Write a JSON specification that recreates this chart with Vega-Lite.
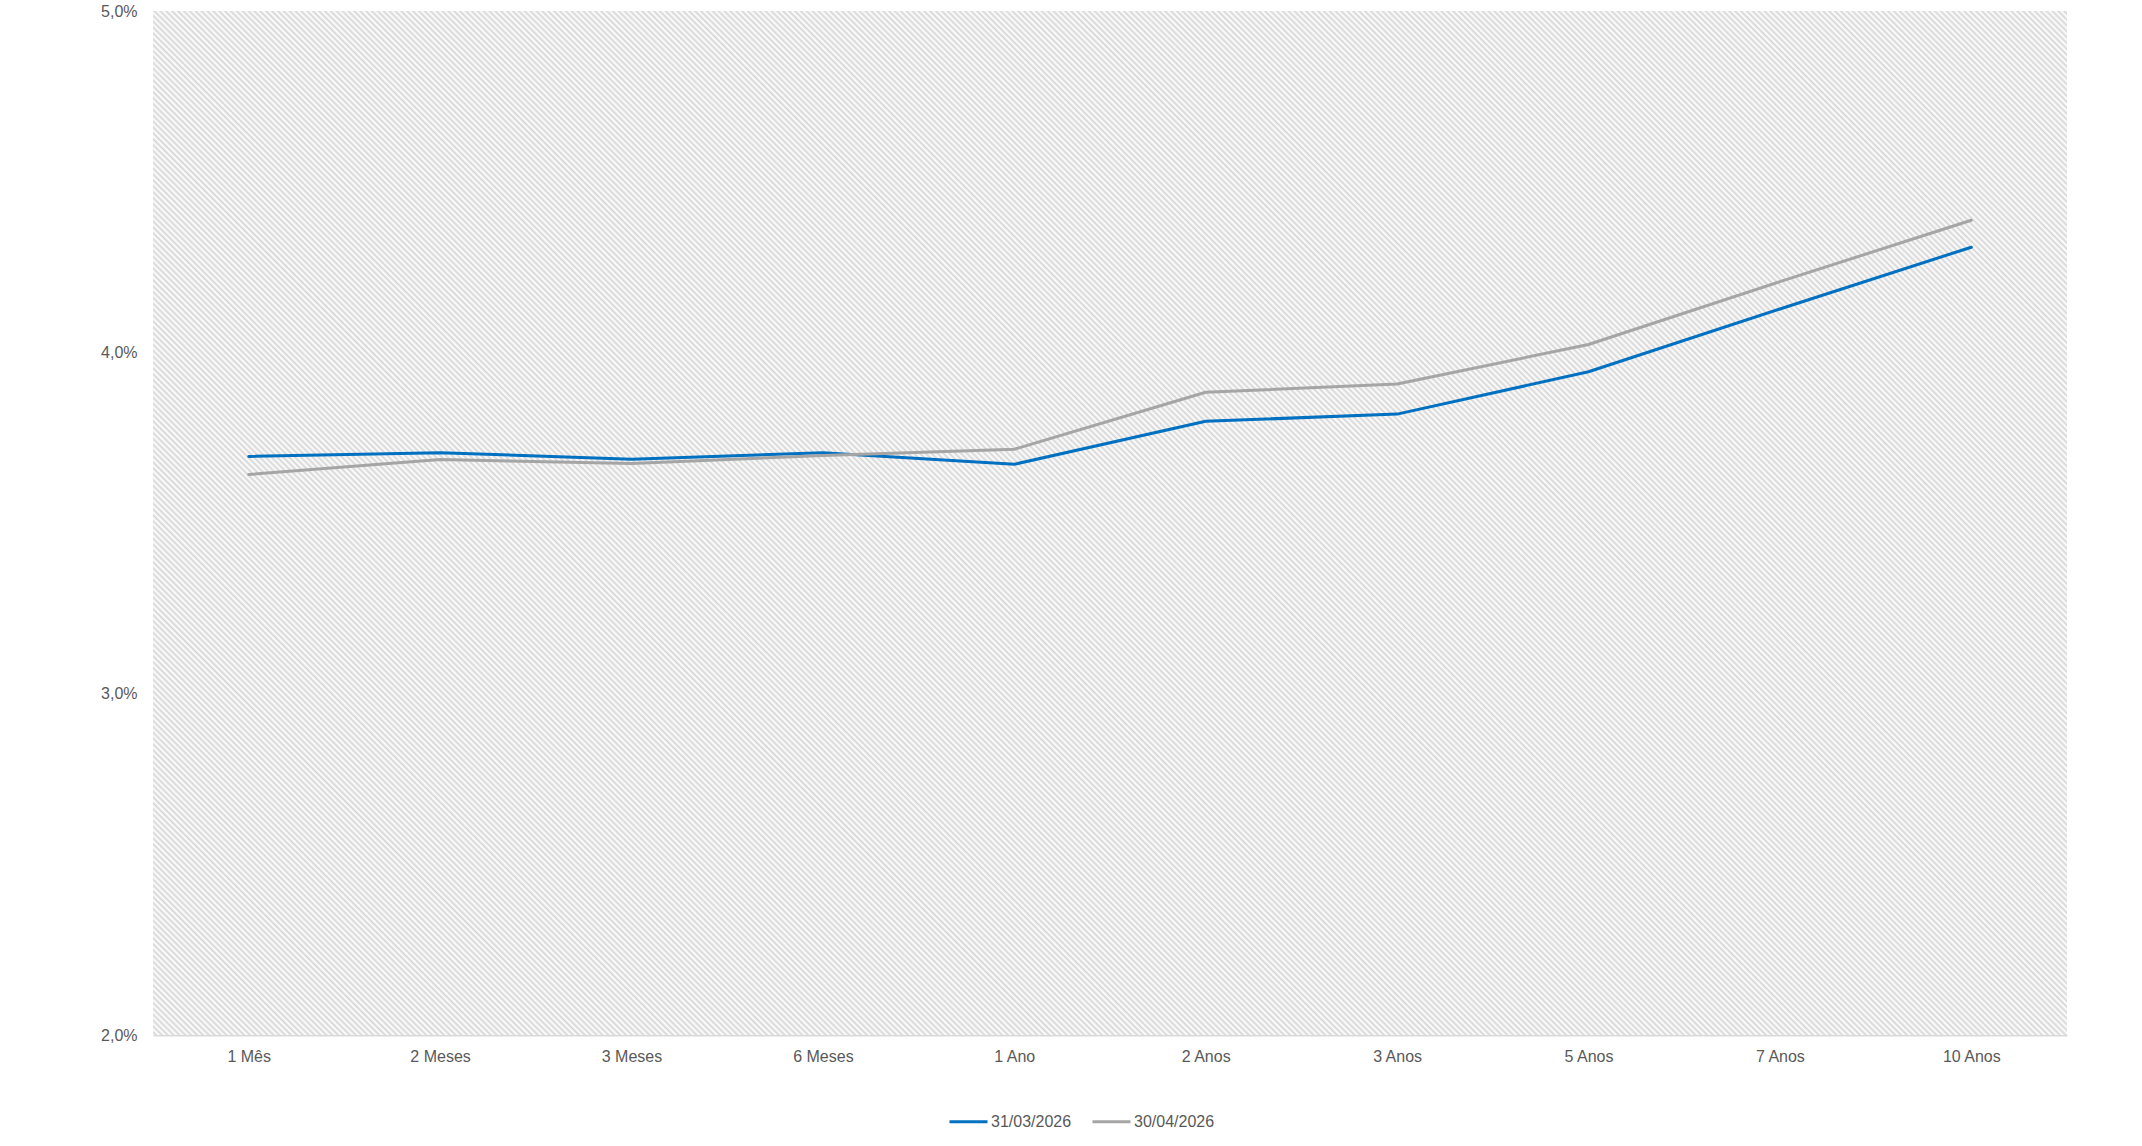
{
  "$schema": "https://vega.github.io/schema/vega-lite/v6.json",
  "width": 1914,
  "height": 1024,
  "autosize": "none",
  "padding": {"left": 153, "top": 11, "right": 75, "bottom": 111},
  "background": "#ffffff",
  "config": {
    "view": {"fill": "#ffffff", "stroke": null},
    "font": "Liberation Sans",
    "axis": {"labelFont": "Liberation Sans", "labelFontSize": 16, "labelColor": "#595959", "ticks": false, "grid": false, "title": null},
    "legend": {"labelFont": "Liberation Sans", "labelFontSize": 16, "labelColor": "#595959"}
  },
  "layer": [
    {
      "data": {"values": [{"fundo": "hachurado"}]},
      "mark": {
        "type": "rect",
        "fill": {
          "gradient": "linear", "x1": 0, "y1": 1, "x2": 1.19342, "y2": 0.36152,
          "stops": [
{"offset":0.000,"color":"#fff"},{"offset":0.001,"color":"#d6d6d6"},{"offset":0.002,"color":"#fff"},{"offset":0.003,"color":"#d6d6d6"},{"offset":0.004,"color":"#fff"},{"offset":0.005,"color":"#d6d6d6"},{"offset":0.006,"color":"#fff"},{"offset":0.007,"color":"#d6d6d6"},{"offset":0.008,"color":"#fff"},{"offset":0.009,"color":"#d6d6d6"},
{"offset":0.010,"color":"#fff"},{"offset":0.011,"color":"#d6d6d6"},{"offset":0.012,"color":"#fff"},{"offset":0.013,"color":"#d6d6d6"},{"offset":0.014,"color":"#fff"},{"offset":0.015,"color":"#d6d6d6"},{"offset":0.016,"color":"#fff"},{"offset":0.017,"color":"#d6d6d6"},{"offset":0.018,"color":"#fff"},{"offset":0.019,"color":"#d6d6d6"},
{"offset":0.020,"color":"#fff"},{"offset":0.021,"color":"#d6d6d6"},{"offset":0.022,"color":"#fff"},{"offset":0.023,"color":"#d6d6d6"},{"offset":0.024,"color":"#fff"},{"offset":0.025,"color":"#d6d6d6"},{"offset":0.026,"color":"#fff"},{"offset":0.027,"color":"#d6d6d6"},{"offset":0.028,"color":"#fff"},{"offset":0.029,"color":"#d6d6d6"},
{"offset":0.030,"color":"#fff"},{"offset":0.031,"color":"#d6d6d6"},{"offset":0.032,"color":"#fff"},{"offset":0.033,"color":"#d6d6d6"},{"offset":0.034,"color":"#fff"},{"offset":0.035,"color":"#d6d6d6"},{"offset":0.036,"color":"#fff"},{"offset":0.037,"color":"#d6d6d6"},{"offset":0.038,"color":"#fff"},{"offset":0.039,"color":"#d6d6d6"},
{"offset":0.040,"color":"#fff"},{"offset":0.041,"color":"#d6d6d6"},{"offset":0.042,"color":"#fff"},{"offset":0.043,"color":"#d6d6d6"},{"offset":0.044,"color":"#fff"},{"offset":0.045,"color":"#d6d6d6"},{"offset":0.046,"color":"#fff"},{"offset":0.047,"color":"#d6d6d6"},{"offset":0.048,"color":"#fff"},{"offset":0.049,"color":"#d6d6d6"},
{"offset":0.050,"color":"#fff"},{"offset":0.051,"color":"#d6d6d6"},{"offset":0.052,"color":"#fff"},{"offset":0.053,"color":"#d6d6d6"},{"offset":0.054,"color":"#fff"},{"offset":0.055,"color":"#d6d6d6"},{"offset":0.056,"color":"#fff"},{"offset":0.057,"color":"#d6d6d6"},{"offset":0.058,"color":"#fff"},{"offset":0.059,"color":"#d6d6d6"},
{"offset":0.060,"color":"#fff"},{"offset":0.061,"color":"#d6d6d6"},{"offset":0.062,"color":"#fff"},{"offset":0.063,"color":"#d6d6d6"},{"offset":0.064,"color":"#fff"},{"offset":0.065,"color":"#d6d6d6"},{"offset":0.066,"color":"#fff"},{"offset":0.067,"color":"#d6d6d6"},{"offset":0.068,"color":"#fff"},{"offset":0.069,"color":"#d6d6d6"},
{"offset":0.070,"color":"#fff"},{"offset":0.071,"color":"#d6d6d6"},{"offset":0.072,"color":"#fff"},{"offset":0.073,"color":"#d6d6d6"},{"offset":0.074,"color":"#fff"},{"offset":0.075,"color":"#d6d6d6"},{"offset":0.076,"color":"#fff"},{"offset":0.077,"color":"#d6d6d6"},{"offset":0.078,"color":"#fff"},{"offset":0.079,"color":"#d6d6d6"},
{"offset":0.080,"color":"#fff"},{"offset":0.081,"color":"#d6d6d6"},{"offset":0.082,"color":"#fff"},{"offset":0.083,"color":"#d6d6d6"},{"offset":0.084,"color":"#fff"},{"offset":0.085,"color":"#d6d6d6"},{"offset":0.086,"color":"#fff"},{"offset":0.087,"color":"#d6d6d6"},{"offset":0.088,"color":"#fff"},{"offset":0.089,"color":"#d6d6d6"},
{"offset":0.090,"color":"#fff"},{"offset":0.091,"color":"#d6d6d6"},{"offset":0.092,"color":"#fff"},{"offset":0.093,"color":"#d6d6d6"},{"offset":0.094,"color":"#fff"},{"offset":0.095,"color":"#d6d6d6"},{"offset":0.096,"color":"#fff"},{"offset":0.097,"color":"#d6d6d6"},{"offset":0.098,"color":"#fff"},{"offset":0.099,"color":"#d6d6d6"},
{"offset":0.100,"color":"#fff"},{"offset":0.101,"color":"#d6d6d6"},{"offset":0.102,"color":"#fff"},{"offset":0.103,"color":"#d6d6d6"},{"offset":0.104,"color":"#fff"},{"offset":0.105,"color":"#d6d6d6"},{"offset":0.106,"color":"#fff"},{"offset":0.107,"color":"#d6d6d6"},{"offset":0.108,"color":"#fff"},{"offset":0.109,"color":"#d6d6d6"},
{"offset":0.110,"color":"#fff"},{"offset":0.111,"color":"#d6d6d6"},{"offset":0.112,"color":"#fff"},{"offset":0.113,"color":"#d6d6d6"},{"offset":0.114,"color":"#fff"},{"offset":0.115,"color":"#d6d6d6"},{"offset":0.116,"color":"#fff"},{"offset":0.117,"color":"#d6d6d6"},{"offset":0.118,"color":"#fff"},{"offset":0.119,"color":"#d6d6d6"},
{"offset":0.120,"color":"#fff"},{"offset":0.121,"color":"#d6d6d6"},{"offset":0.122,"color":"#fff"},{"offset":0.123,"color":"#d6d6d6"},{"offset":0.124,"color":"#fff"},{"offset":0.125,"color":"#d6d6d6"},{"offset":0.126,"color":"#fff"},{"offset":0.127,"color":"#d6d6d6"},{"offset":0.128,"color":"#fff"},{"offset":0.129,"color":"#d6d6d6"},
{"offset":0.130,"color":"#fff"},{"offset":0.131,"color":"#d6d6d6"},{"offset":0.132,"color":"#fff"},{"offset":0.133,"color":"#d6d6d6"},{"offset":0.134,"color":"#fff"},{"offset":0.135,"color":"#d6d6d6"},{"offset":0.136,"color":"#fff"},{"offset":0.137,"color":"#d6d6d6"},{"offset":0.138,"color":"#fff"},{"offset":0.139,"color":"#d6d6d6"},
{"offset":0.140,"color":"#fff"},{"offset":0.141,"color":"#d6d6d6"},{"offset":0.142,"color":"#fff"},{"offset":0.143,"color":"#d6d6d6"},{"offset":0.144,"color":"#fff"},{"offset":0.145,"color":"#d6d6d6"},{"offset":0.146,"color":"#fff"},{"offset":0.147,"color":"#d6d6d6"},{"offset":0.148,"color":"#fff"},{"offset":0.149,"color":"#d6d6d6"},
{"offset":0.150,"color":"#fff"},{"offset":0.151,"color":"#d6d6d6"},{"offset":0.152,"color":"#fff"},{"offset":0.153,"color":"#d6d6d6"},{"offset":0.154,"color":"#fff"},{"offset":0.155,"color":"#d6d6d6"},{"offset":0.156,"color":"#fff"},{"offset":0.157,"color":"#d6d6d6"},{"offset":0.158,"color":"#fff"},{"offset":0.159,"color":"#d6d6d6"},
{"offset":0.160,"color":"#fff"},{"offset":0.161,"color":"#d6d6d6"},{"offset":0.162,"color":"#fff"},{"offset":0.163,"color":"#d6d6d6"},{"offset":0.164,"color":"#fff"},{"offset":0.165,"color":"#d6d6d6"},{"offset":0.166,"color":"#fff"},{"offset":0.167,"color":"#d6d6d6"},{"offset":0.168,"color":"#fff"},{"offset":0.169,"color":"#d6d6d6"},
{"offset":0.170,"color":"#fff"},{"offset":0.171,"color":"#d6d6d6"},{"offset":0.172,"color":"#fff"},{"offset":0.173,"color":"#d6d6d6"},{"offset":0.174,"color":"#fff"},{"offset":0.175,"color":"#d6d6d6"},{"offset":0.176,"color":"#fff"},{"offset":0.177,"color":"#d6d6d6"},{"offset":0.178,"color":"#fff"},{"offset":0.179,"color":"#d6d6d6"},
{"offset":0.180,"color":"#fff"},{"offset":0.181,"color":"#d6d6d6"},{"offset":0.182,"color":"#fff"},{"offset":0.183,"color":"#d6d6d6"},{"offset":0.184,"color":"#fff"},{"offset":0.185,"color":"#d6d6d6"},{"offset":0.186,"color":"#fff"},{"offset":0.187,"color":"#d6d6d6"},{"offset":0.188,"color":"#fff"},{"offset":0.189,"color":"#d6d6d6"},
{"offset":0.190,"color":"#fff"},{"offset":0.191,"color":"#d6d6d6"},{"offset":0.192,"color":"#fff"},{"offset":0.193,"color":"#d6d6d6"},{"offset":0.194,"color":"#fff"},{"offset":0.195,"color":"#d6d6d6"},{"offset":0.196,"color":"#fff"},{"offset":0.197,"color":"#d6d6d6"},{"offset":0.198,"color":"#fff"},{"offset":0.199,"color":"#d6d6d6"},
{"offset":0.200,"color":"#fff"},{"offset":0.201,"color":"#d6d6d6"},{"offset":0.202,"color":"#fff"},{"offset":0.203,"color":"#d6d6d6"},{"offset":0.204,"color":"#fff"},{"offset":0.205,"color":"#d6d6d6"},{"offset":0.206,"color":"#fff"},{"offset":0.207,"color":"#d6d6d6"},{"offset":0.208,"color":"#fff"},{"offset":0.209,"color":"#d6d6d6"},
{"offset":0.210,"color":"#fff"},{"offset":0.211,"color":"#d6d6d6"},{"offset":0.212,"color":"#fff"},{"offset":0.213,"color":"#d6d6d6"},{"offset":0.214,"color":"#fff"},{"offset":0.215,"color":"#d6d6d6"},{"offset":0.216,"color":"#fff"},{"offset":0.217,"color":"#d6d6d6"},{"offset":0.218,"color":"#fff"},{"offset":0.219,"color":"#d6d6d6"},
{"offset":0.220,"color":"#fff"},{"offset":0.221,"color":"#d6d6d6"},{"offset":0.222,"color":"#fff"},{"offset":0.223,"color":"#d6d6d6"},{"offset":0.224,"color":"#fff"},{"offset":0.225,"color":"#d6d6d6"},{"offset":0.226,"color":"#fff"},{"offset":0.227,"color":"#d6d6d6"},{"offset":0.228,"color":"#fff"},{"offset":0.229,"color":"#d6d6d6"},
{"offset":0.230,"color":"#fff"},{"offset":0.231,"color":"#d6d6d6"},{"offset":0.232,"color":"#fff"},{"offset":0.233,"color":"#d6d6d6"},{"offset":0.234,"color":"#fff"},{"offset":0.235,"color":"#d6d6d6"},{"offset":0.236,"color":"#fff"},{"offset":0.237,"color":"#d6d6d6"},{"offset":0.238,"color":"#fff"},{"offset":0.239,"color":"#d6d6d6"},
{"offset":0.240,"color":"#fff"},{"offset":0.241,"color":"#d6d6d6"},{"offset":0.242,"color":"#fff"},{"offset":0.243,"color":"#d6d6d6"},{"offset":0.244,"color":"#fff"},{"offset":0.245,"color":"#d6d6d6"},{"offset":0.246,"color":"#fff"},{"offset":0.247,"color":"#d6d6d6"},{"offset":0.248,"color":"#fff"},{"offset":0.249,"color":"#d6d6d6"},
{"offset":0.250,"color":"#fff"},{"offset":0.251,"color":"#d6d6d6"},{"offset":0.252,"color":"#fff"},{"offset":0.253,"color":"#d6d6d6"},{"offset":0.254,"color":"#fff"},{"offset":0.255,"color":"#d6d6d6"},{"offset":0.256,"color":"#fff"},{"offset":0.257,"color":"#d6d6d6"},{"offset":0.258,"color":"#fff"},{"offset":0.259,"color":"#d6d6d6"},
{"offset":0.260,"color":"#fff"},{"offset":0.261,"color":"#d6d6d6"},{"offset":0.262,"color":"#fff"},{"offset":0.263,"color":"#d6d6d6"},{"offset":0.264,"color":"#fff"},{"offset":0.265,"color":"#d6d6d6"},{"offset":0.266,"color":"#fff"},{"offset":0.267,"color":"#d6d6d6"},{"offset":0.268,"color":"#fff"},{"offset":0.269,"color":"#d6d6d6"},
{"offset":0.270,"color":"#fff"},{"offset":0.271,"color":"#d6d6d6"},{"offset":0.272,"color":"#fff"},{"offset":0.273,"color":"#d6d6d6"},{"offset":0.274,"color":"#fff"},{"offset":0.275,"color":"#d6d6d6"},{"offset":0.276,"color":"#fff"},{"offset":0.277,"color":"#d6d6d6"},{"offset":0.278,"color":"#fff"},{"offset":0.279,"color":"#d6d6d6"},
{"offset":0.280,"color":"#fff"},{"offset":0.281,"color":"#d6d6d6"},{"offset":0.282,"color":"#fff"},{"offset":0.283,"color":"#d6d6d6"},{"offset":0.284,"color":"#fff"},{"offset":0.285,"color":"#d6d6d6"},{"offset":0.286,"color":"#fff"},{"offset":0.287,"color":"#d6d6d6"},{"offset":0.288,"color":"#fff"},{"offset":0.289,"color":"#d6d6d6"},
{"offset":0.290,"color":"#fff"},{"offset":0.291,"color":"#d6d6d6"},{"offset":0.292,"color":"#fff"},{"offset":0.293,"color":"#d6d6d6"},{"offset":0.294,"color":"#fff"},{"offset":0.295,"color":"#d6d6d6"},{"offset":0.296,"color":"#fff"},{"offset":0.297,"color":"#d6d6d6"},{"offset":0.298,"color":"#fff"},{"offset":0.299,"color":"#d6d6d6"},
{"offset":0.300,"color":"#fff"},{"offset":0.301,"color":"#d6d6d6"},{"offset":0.302,"color":"#fff"},{"offset":0.303,"color":"#d6d6d6"},{"offset":0.304,"color":"#fff"},{"offset":0.305,"color":"#d6d6d6"},{"offset":0.306,"color":"#fff"},{"offset":0.307,"color":"#d6d6d6"},{"offset":0.308,"color":"#fff"},{"offset":0.309,"color":"#d6d6d6"},
{"offset":0.310,"color":"#fff"},{"offset":0.311,"color":"#d6d6d6"},{"offset":0.312,"color":"#fff"},{"offset":0.313,"color":"#d6d6d6"},{"offset":0.314,"color":"#fff"},{"offset":0.315,"color":"#d6d6d6"},{"offset":0.316,"color":"#fff"},{"offset":0.317,"color":"#d6d6d6"},{"offset":0.318,"color":"#fff"},{"offset":0.319,"color":"#d6d6d6"},
{"offset":0.320,"color":"#fff"},{"offset":0.321,"color":"#d6d6d6"},{"offset":0.322,"color":"#fff"},{"offset":0.323,"color":"#d6d6d6"},{"offset":0.324,"color":"#fff"},{"offset":0.325,"color":"#d6d6d6"},{"offset":0.326,"color":"#fff"},{"offset":0.327,"color":"#d6d6d6"},{"offset":0.328,"color":"#fff"},{"offset":0.329,"color":"#d6d6d6"},
{"offset":0.330,"color":"#fff"},{"offset":0.331,"color":"#d6d6d6"},{"offset":0.332,"color":"#fff"},{"offset":0.333,"color":"#d6d6d6"},{"offset":0.334,"color":"#fff"},{"offset":0.335,"color":"#d6d6d6"},{"offset":0.336,"color":"#fff"},{"offset":0.337,"color":"#d6d6d6"},{"offset":0.338,"color":"#fff"},{"offset":0.339,"color":"#d6d6d6"},
{"offset":0.340,"color":"#fff"},{"offset":0.341,"color":"#d6d6d6"},{"offset":0.342,"color":"#fff"},{"offset":0.343,"color":"#d6d6d6"},{"offset":0.344,"color":"#fff"},{"offset":0.345,"color":"#d6d6d6"},{"offset":0.346,"color":"#fff"},{"offset":0.347,"color":"#d6d6d6"},{"offset":0.348,"color":"#fff"},{"offset":0.349,"color":"#d6d6d6"},
{"offset":0.350,"color":"#fff"},{"offset":0.351,"color":"#d6d6d6"},{"offset":0.352,"color":"#fff"},{"offset":0.353,"color":"#d6d6d6"},{"offset":0.354,"color":"#fff"},{"offset":0.355,"color":"#d6d6d6"},{"offset":0.356,"color":"#fff"},{"offset":0.357,"color":"#d6d6d6"},{"offset":0.358,"color":"#fff"},{"offset":0.359,"color":"#d6d6d6"},
{"offset":0.360,"color":"#fff"},{"offset":0.361,"color":"#d6d6d6"},{"offset":0.362,"color":"#fff"},{"offset":0.363,"color":"#d6d6d6"},{"offset":0.364,"color":"#fff"},{"offset":0.365,"color":"#d6d6d6"},{"offset":0.366,"color":"#fff"},{"offset":0.367,"color":"#d6d6d6"},{"offset":0.368,"color":"#fff"},{"offset":0.369,"color":"#d6d6d6"},
{"offset":0.370,"color":"#fff"},{"offset":0.371,"color":"#d6d6d6"},{"offset":0.372,"color":"#fff"},{"offset":0.373,"color":"#d6d6d6"},{"offset":0.374,"color":"#fff"},{"offset":0.375,"color":"#d6d6d6"},{"offset":0.376,"color":"#fff"},{"offset":0.377,"color":"#d6d6d6"},{"offset":0.378,"color":"#fff"},{"offset":0.379,"color":"#d6d6d6"},
{"offset":0.380,"color":"#fff"},{"offset":0.381,"color":"#d6d6d6"},{"offset":0.382,"color":"#fff"},{"offset":0.383,"color":"#d6d6d6"},{"offset":0.384,"color":"#fff"},{"offset":0.385,"color":"#d6d6d6"},{"offset":0.386,"color":"#fff"},{"offset":0.387,"color":"#d6d6d6"},{"offset":0.388,"color":"#fff"},{"offset":0.389,"color":"#d6d6d6"},
{"offset":0.390,"color":"#fff"},{"offset":0.391,"color":"#d6d6d6"},{"offset":0.392,"color":"#fff"},{"offset":0.393,"color":"#d6d6d6"},{"offset":0.394,"color":"#fff"},{"offset":0.395,"color":"#d6d6d6"},{"offset":0.396,"color":"#fff"},{"offset":0.397,"color":"#d6d6d6"},{"offset":0.398,"color":"#fff"},{"offset":0.399,"color":"#d6d6d6"},
{"offset":0.400,"color":"#fff"},{"offset":0.401,"color":"#d6d6d6"},{"offset":0.402,"color":"#fff"},{"offset":0.403,"color":"#d6d6d6"},{"offset":0.404,"color":"#fff"},{"offset":0.405,"color":"#d6d6d6"},{"offset":0.406,"color":"#fff"},{"offset":0.407,"color":"#d6d6d6"},{"offset":0.408,"color":"#fff"},{"offset":0.409,"color":"#d6d6d6"},
{"offset":0.410,"color":"#fff"},{"offset":0.411,"color":"#d6d6d6"},{"offset":0.412,"color":"#fff"},{"offset":0.413,"color":"#d6d6d6"},{"offset":0.414,"color":"#fff"},{"offset":0.415,"color":"#d6d6d6"},{"offset":0.416,"color":"#fff"},{"offset":0.417,"color":"#d6d6d6"},{"offset":0.418,"color":"#fff"},{"offset":0.419,"color":"#d6d6d6"},
{"offset":0.420,"color":"#fff"},{"offset":0.421,"color":"#d6d6d6"},{"offset":0.422,"color":"#fff"},{"offset":0.423,"color":"#d6d6d6"},{"offset":0.424,"color":"#fff"},{"offset":0.425,"color":"#d6d6d6"},{"offset":0.426,"color":"#fff"},{"offset":0.427,"color":"#d6d6d6"},{"offset":0.428,"color":"#fff"},{"offset":0.429,"color":"#d6d6d6"},
{"offset":0.430,"color":"#fff"},{"offset":0.431,"color":"#d6d6d6"},{"offset":0.432,"color":"#fff"},{"offset":0.433,"color":"#d6d6d6"},{"offset":0.434,"color":"#fff"},{"offset":0.435,"color":"#d6d6d6"},{"offset":0.436,"color":"#fff"},{"offset":0.437,"color":"#d6d6d6"},{"offset":0.438,"color":"#fff"},{"offset":0.439,"color":"#d6d6d6"},
{"offset":0.440,"color":"#fff"},{"offset":0.441,"color":"#d6d6d6"},{"offset":0.442,"color":"#fff"},{"offset":0.443,"color":"#d6d6d6"},{"offset":0.444,"color":"#fff"},{"offset":0.445,"color":"#d6d6d6"},{"offset":0.446,"color":"#fff"},{"offset":0.447,"color":"#d6d6d6"},{"offset":0.448,"color":"#fff"},{"offset":0.449,"color":"#d6d6d6"},
{"offset":0.450,"color":"#fff"},{"offset":0.451,"color":"#d6d6d6"},{"offset":0.452,"color":"#fff"},{"offset":0.453,"color":"#d6d6d6"},{"offset":0.454,"color":"#fff"},{"offset":0.455,"color":"#d6d6d6"},{"offset":0.456,"color":"#fff"},{"offset":0.457,"color":"#d6d6d6"},{"offset":0.458,"color":"#fff"},{"offset":0.459,"color":"#d6d6d6"},
{"offset":0.460,"color":"#fff"},{"offset":0.461,"color":"#d6d6d6"},{"offset":0.462,"color":"#fff"},{"offset":0.463,"color":"#d6d6d6"},{"offset":0.464,"color":"#fff"},{"offset":0.465,"color":"#d6d6d6"},{"offset":0.466,"color":"#fff"},{"offset":0.467,"color":"#d6d6d6"},{"offset":0.468,"color":"#fff"},{"offset":0.469,"color":"#d6d6d6"},
{"offset":0.470,"color":"#fff"},{"offset":0.471,"color":"#d6d6d6"},{"offset":0.472,"color":"#fff"},{"offset":0.473,"color":"#d6d6d6"},{"offset":0.474,"color":"#fff"},{"offset":0.475,"color":"#d6d6d6"},{"offset":0.476,"color":"#fff"},{"offset":0.477,"color":"#d6d6d6"},{"offset":0.478,"color":"#fff"},{"offset":0.479,"color":"#d6d6d6"},
{"offset":0.480,"color":"#fff"},{"offset":0.481,"color":"#d6d6d6"},{"offset":0.482,"color":"#fff"},{"offset":0.483,"color":"#d6d6d6"},{"offset":0.484,"color":"#fff"},{"offset":0.485,"color":"#d6d6d6"},{"offset":0.486,"color":"#fff"},{"offset":0.487,"color":"#d6d6d6"},{"offset":0.488,"color":"#fff"},{"offset":0.489,"color":"#d6d6d6"},
{"offset":0.490,"color":"#fff"},{"offset":0.491,"color":"#d6d6d6"},{"offset":0.492,"color":"#fff"},{"offset":0.493,"color":"#d6d6d6"},{"offset":0.494,"color":"#fff"},{"offset":0.495,"color":"#d6d6d6"},{"offset":0.496,"color":"#fff"},{"offset":0.497,"color":"#d6d6d6"},{"offset":0.498,"color":"#fff"},{"offset":0.499,"color":"#d6d6d6"},
{"offset":0.500,"color":"#fff"},{"offset":0.501,"color":"#d6d6d6"},{"offset":0.502,"color":"#fff"},{"offset":0.503,"color":"#d6d6d6"},{"offset":0.504,"color":"#fff"},{"offset":0.505,"color":"#d6d6d6"},{"offset":0.506,"color":"#fff"},{"offset":0.507,"color":"#d6d6d6"},{"offset":0.508,"color":"#fff"},{"offset":0.509,"color":"#d6d6d6"},
{"offset":0.510,"color":"#fff"},{"offset":0.511,"color":"#d6d6d6"},{"offset":0.512,"color":"#fff"},{"offset":0.513,"color":"#d6d6d6"},{"offset":0.514,"color":"#fff"},{"offset":0.515,"color":"#d6d6d6"},{"offset":0.516,"color":"#fff"},{"offset":0.517,"color":"#d6d6d6"},{"offset":0.518,"color":"#fff"},{"offset":0.519,"color":"#d6d6d6"},
{"offset":0.520,"color":"#fff"},{"offset":0.521,"color":"#d6d6d6"},{"offset":0.522,"color":"#fff"},{"offset":0.523,"color":"#d6d6d6"},{"offset":0.524,"color":"#fff"},{"offset":0.525,"color":"#d6d6d6"},{"offset":0.526,"color":"#fff"},{"offset":0.527,"color":"#d6d6d6"},{"offset":0.528,"color":"#fff"},{"offset":0.529,"color":"#d6d6d6"},
{"offset":0.530,"color":"#fff"},{"offset":0.531,"color":"#d6d6d6"},{"offset":0.532,"color":"#fff"},{"offset":0.533,"color":"#d6d6d6"},{"offset":0.534,"color":"#fff"},{"offset":0.535,"color":"#d6d6d6"},{"offset":0.536,"color":"#fff"},{"offset":0.537,"color":"#d6d6d6"},{"offset":0.538,"color":"#fff"},{"offset":0.539,"color":"#d6d6d6"},
{"offset":0.540,"color":"#fff"},{"offset":0.541,"color":"#d6d6d6"},{"offset":0.542,"color":"#fff"},{"offset":0.543,"color":"#d6d6d6"},{"offset":0.544,"color":"#fff"},{"offset":0.545,"color":"#d6d6d6"},{"offset":0.546,"color":"#fff"},{"offset":0.547,"color":"#d6d6d6"},{"offset":0.548,"color":"#fff"},{"offset":0.549,"color":"#d6d6d6"},
{"offset":0.550,"color":"#fff"},{"offset":0.551,"color":"#d6d6d6"},{"offset":0.552,"color":"#fff"},{"offset":0.553,"color":"#d6d6d6"},{"offset":0.554,"color":"#fff"},{"offset":0.555,"color":"#d6d6d6"},{"offset":0.556,"color":"#fff"},{"offset":0.557,"color":"#d6d6d6"},{"offset":0.558,"color":"#fff"},{"offset":0.559,"color":"#d6d6d6"},
{"offset":0.560,"color":"#fff"},{"offset":0.561,"color":"#d6d6d6"},{"offset":0.562,"color":"#fff"},{"offset":0.563,"color":"#d6d6d6"},{"offset":0.564,"color":"#fff"},{"offset":0.565,"color":"#d6d6d6"},{"offset":0.566,"color":"#fff"},{"offset":0.567,"color":"#d6d6d6"},{"offset":0.568,"color":"#fff"},{"offset":0.569,"color":"#d6d6d6"},
{"offset":0.570,"color":"#fff"},{"offset":0.571,"color":"#d6d6d6"},{"offset":0.572,"color":"#fff"},{"offset":0.573,"color":"#d6d6d6"},{"offset":0.574,"color":"#fff"},{"offset":0.575,"color":"#d6d6d6"},{"offset":0.576,"color":"#fff"},{"offset":0.577,"color":"#d6d6d6"},{"offset":0.578,"color":"#fff"},{"offset":0.579,"color":"#d6d6d6"},
{"offset":0.580,"color":"#fff"},{"offset":0.581,"color":"#d6d6d6"},{"offset":0.582,"color":"#fff"},{"offset":0.583,"color":"#d6d6d6"},{"offset":0.584,"color":"#fff"},{"offset":0.585,"color":"#d6d6d6"},{"offset":0.586,"color":"#fff"},{"offset":0.587,"color":"#d6d6d6"},{"offset":0.588,"color":"#fff"},{"offset":0.589,"color":"#d6d6d6"},
{"offset":0.590,"color":"#fff"},{"offset":0.591,"color":"#d6d6d6"},{"offset":0.592,"color":"#fff"},{"offset":0.593,"color":"#d6d6d6"},{"offset":0.594,"color":"#fff"},{"offset":0.595,"color":"#d6d6d6"},{"offset":0.596,"color":"#fff"},{"offset":0.597,"color":"#d6d6d6"},{"offset":0.598,"color":"#fff"},{"offset":0.599,"color":"#d6d6d6"},
{"offset":0.600,"color":"#fff"},{"offset":0.601,"color":"#d6d6d6"},{"offset":0.602,"color":"#fff"},{"offset":0.603,"color":"#d6d6d6"},{"offset":0.604,"color":"#fff"},{"offset":0.605,"color":"#d6d6d6"},{"offset":0.606,"color":"#fff"},{"offset":0.607,"color":"#d6d6d6"},{"offset":0.608,"color":"#fff"},{"offset":0.609,"color":"#d6d6d6"},
{"offset":0.610,"color":"#fff"},{"offset":0.611,"color":"#d6d6d6"},{"offset":0.612,"color":"#fff"},{"offset":0.613,"color":"#d6d6d6"},{"offset":0.614,"color":"#fff"},{"offset":0.615,"color":"#d6d6d6"},{"offset":0.616,"color":"#fff"},{"offset":0.617,"color":"#d6d6d6"},{"offset":0.618,"color":"#fff"},{"offset":0.619,"color":"#d6d6d6"},
{"offset":0.620,"color":"#fff"},{"offset":0.621,"color":"#d6d6d6"},{"offset":0.622,"color":"#fff"},{"offset":0.623,"color":"#d6d6d6"},{"offset":0.624,"color":"#fff"},{"offset":0.625,"color":"#d6d6d6"},{"offset":0.626,"color":"#fff"},{"offset":0.627,"color":"#d6d6d6"},{"offset":0.628,"color":"#fff"},{"offset":0.629,"color":"#d6d6d6"},
{"offset":0.630,"color":"#fff"},{"offset":0.631,"color":"#d6d6d6"},{"offset":0.632,"color":"#fff"},{"offset":0.633,"color":"#d6d6d6"},{"offset":0.634,"color":"#fff"},{"offset":0.635,"color":"#d6d6d6"},{"offset":0.636,"color":"#fff"},{"offset":0.637,"color":"#d6d6d6"},{"offset":0.638,"color":"#fff"},{"offset":0.639,"color":"#d6d6d6"},
{"offset":0.640,"color":"#fff"},{"offset":0.641,"color":"#d6d6d6"},{"offset":0.642,"color":"#fff"},{"offset":0.643,"color":"#d6d6d6"},{"offset":0.644,"color":"#fff"},{"offset":0.645,"color":"#d6d6d6"},{"offset":0.646,"color":"#fff"},{"offset":0.647,"color":"#d6d6d6"},{"offset":0.648,"color":"#fff"},{"offset":0.649,"color":"#d6d6d6"},
{"offset":0.650,"color":"#fff"},{"offset":0.651,"color":"#d6d6d6"},{"offset":0.652,"color":"#fff"},{"offset":0.653,"color":"#d6d6d6"},{"offset":0.654,"color":"#fff"},{"offset":0.655,"color":"#d6d6d6"},{"offset":0.656,"color":"#fff"},{"offset":0.657,"color":"#d6d6d6"},{"offset":0.658,"color":"#fff"},{"offset":0.659,"color":"#d6d6d6"},
{"offset":0.660,"color":"#fff"},{"offset":0.661,"color":"#d6d6d6"},{"offset":0.662,"color":"#fff"},{"offset":0.663,"color":"#d6d6d6"},{"offset":0.664,"color":"#fff"},{"offset":0.665,"color":"#d6d6d6"},{"offset":0.666,"color":"#fff"},{"offset":0.667,"color":"#d6d6d6"},{"offset":0.668,"color":"#fff"},{"offset":0.669,"color":"#d6d6d6"},
{"offset":0.670,"color":"#fff"},{"offset":0.671,"color":"#d6d6d6"},{"offset":0.672,"color":"#fff"},{"offset":0.673,"color":"#d6d6d6"},{"offset":0.674,"color":"#fff"},{"offset":0.675,"color":"#d6d6d6"},{"offset":0.676,"color":"#fff"},{"offset":0.677,"color":"#d6d6d6"},{"offset":0.678,"color":"#fff"},{"offset":0.679,"color":"#d6d6d6"},
{"offset":0.680,"color":"#fff"},{"offset":0.681,"color":"#d6d6d6"},{"offset":0.682,"color":"#fff"},{"offset":0.683,"color":"#d6d6d6"},{"offset":0.684,"color":"#fff"},{"offset":0.685,"color":"#d6d6d6"},{"offset":0.686,"color":"#fff"},{"offset":0.687,"color":"#d6d6d6"},{"offset":0.688,"color":"#fff"},{"offset":0.689,"color":"#d6d6d6"},
{"offset":0.690,"color":"#fff"},{"offset":0.691,"color":"#d6d6d6"},{"offset":0.692,"color":"#fff"},{"offset":0.693,"color":"#d6d6d6"},{"offset":0.694,"color":"#fff"},{"offset":0.695,"color":"#d6d6d6"},{"offset":0.696,"color":"#fff"},{"offset":0.697,"color":"#d6d6d6"},{"offset":0.698,"color":"#fff"},{"offset":0.699,"color":"#d6d6d6"},
{"offset":0.700,"color":"#fff"},{"offset":0.701,"color":"#d6d6d6"},{"offset":0.702,"color":"#fff"},{"offset":0.703,"color":"#d6d6d6"},{"offset":0.704,"color":"#fff"},{"offset":0.705,"color":"#d6d6d6"},{"offset":0.706,"color":"#fff"},{"offset":0.707,"color":"#d6d6d6"},{"offset":0.708,"color":"#fff"},{"offset":0.709,"color":"#d6d6d6"},
{"offset":0.710,"color":"#fff"},{"offset":0.711,"color":"#d6d6d6"},{"offset":0.712,"color":"#fff"},{"offset":0.713,"color":"#d6d6d6"},{"offset":0.714,"color":"#fff"},{"offset":0.715,"color":"#d6d6d6"},{"offset":0.716,"color":"#fff"},{"offset":0.717,"color":"#d6d6d6"},{"offset":0.718,"color":"#fff"},{"offset":0.719,"color":"#d6d6d6"},
{"offset":0.720,"color":"#fff"},{"offset":0.721,"color":"#d6d6d6"},{"offset":0.722,"color":"#fff"},{"offset":0.723,"color":"#d6d6d6"},{"offset":0.724,"color":"#fff"},{"offset":0.725,"color":"#d6d6d6"},{"offset":0.726,"color":"#fff"},{"offset":0.727,"color":"#d6d6d6"},{"offset":0.728,"color":"#fff"},{"offset":0.729,"color":"#d6d6d6"},
{"offset":0.730,"color":"#fff"},{"offset":0.731,"color":"#d6d6d6"},{"offset":0.732,"color":"#fff"},{"offset":0.733,"color":"#d6d6d6"},{"offset":0.734,"color":"#fff"},{"offset":0.735,"color":"#d6d6d6"},{"offset":0.736,"color":"#fff"},{"offset":0.737,"color":"#d6d6d6"},{"offset":0.738,"color":"#fff"},{"offset":0.739,"color":"#d6d6d6"},
{"offset":0.740,"color":"#fff"},{"offset":0.741,"color":"#d6d6d6"},{"offset":0.742,"color":"#fff"},{"offset":0.743,"color":"#d6d6d6"},{"offset":0.744,"color":"#fff"},{"offset":0.745,"color":"#d6d6d6"},{"offset":0.746,"color":"#fff"},{"offset":0.747,"color":"#d6d6d6"},{"offset":0.748,"color":"#fff"},{"offset":0.749,"color":"#d6d6d6"},
{"offset":0.750,"color":"#fff"},{"offset":0.751,"color":"#d6d6d6"},{"offset":0.752,"color":"#fff"},{"offset":0.753,"color":"#d6d6d6"},{"offset":0.754,"color":"#fff"},{"offset":0.755,"color":"#d6d6d6"},{"offset":0.756,"color":"#fff"},{"offset":0.757,"color":"#d6d6d6"},{"offset":0.758,"color":"#fff"},{"offset":0.759,"color":"#d6d6d6"},
{"offset":0.760,"color":"#fff"},{"offset":0.761,"color":"#d6d6d6"},{"offset":0.762,"color":"#fff"},{"offset":0.763,"color":"#d6d6d6"},{"offset":0.764,"color":"#fff"},{"offset":0.765,"color":"#d6d6d6"},{"offset":0.766,"color":"#fff"},{"offset":0.767,"color":"#d6d6d6"},{"offset":0.768,"color":"#fff"},{"offset":0.769,"color":"#d6d6d6"},
{"offset":0.770,"color":"#fff"},{"offset":0.771,"color":"#d6d6d6"},{"offset":0.772,"color":"#fff"},{"offset":0.773,"color":"#d6d6d6"},{"offset":0.774,"color":"#fff"},{"offset":0.775,"color":"#d6d6d6"},{"offset":0.776,"color":"#fff"},{"offset":0.777,"color":"#d6d6d6"},{"offset":0.778,"color":"#fff"},{"offset":0.779,"color":"#d6d6d6"},
{"offset":0.780,"color":"#fff"},{"offset":0.781,"color":"#d6d6d6"},{"offset":0.782,"color":"#fff"},{"offset":0.783,"color":"#d6d6d6"},{"offset":0.784,"color":"#fff"},{"offset":0.785,"color":"#d6d6d6"},{"offset":0.786,"color":"#fff"},{"offset":0.787,"color":"#d6d6d6"},{"offset":0.788,"color":"#fff"},{"offset":0.789,"color":"#d6d6d6"},
{"offset":0.790,"color":"#fff"},{"offset":0.791,"color":"#d6d6d6"},{"offset":0.792,"color":"#fff"},{"offset":0.793,"color":"#d6d6d6"},{"offset":0.794,"color":"#fff"},{"offset":0.795,"color":"#d6d6d6"},{"offset":0.796,"color":"#fff"},{"offset":0.797,"color":"#d6d6d6"},{"offset":0.798,"color":"#fff"},{"offset":0.799,"color":"#d6d6d6"},
{"offset":0.800,"color":"#fff"},{"offset":0.801,"color":"#d6d6d6"},{"offset":0.802,"color":"#fff"},{"offset":0.803,"color":"#d6d6d6"},{"offset":0.804,"color":"#fff"},{"offset":0.805,"color":"#d6d6d6"},{"offset":0.806,"color":"#fff"},{"offset":0.807,"color":"#d6d6d6"},{"offset":0.808,"color":"#fff"},{"offset":0.809,"color":"#d6d6d6"},
{"offset":0.810,"color":"#fff"},{"offset":0.811,"color":"#d6d6d6"},{"offset":0.812,"color":"#fff"},{"offset":0.813,"color":"#d6d6d6"},{"offset":0.814,"color":"#fff"},{"offset":0.815,"color":"#d6d6d6"},{"offset":0.816,"color":"#fff"},{"offset":0.817,"color":"#d6d6d6"},{"offset":0.818,"color":"#fff"},{"offset":0.819,"color":"#d6d6d6"},
{"offset":0.820,"color":"#fff"},{"offset":0.821,"color":"#d6d6d6"},{"offset":0.822,"color":"#fff"},{"offset":0.823,"color":"#d6d6d6"},{"offset":0.824,"color":"#fff"},{"offset":0.825,"color":"#d6d6d6"},{"offset":0.826,"color":"#fff"},{"offset":0.827,"color":"#d6d6d6"},{"offset":0.828,"color":"#fff"},{"offset":0.829,"color":"#d6d6d6"},
{"offset":0.830,"color":"#fff"},{"offset":0.831,"color":"#d6d6d6"},{"offset":0.832,"color":"#fff"},{"offset":0.833,"color":"#d6d6d6"},{"offset":0.834,"color":"#fff"},{"offset":0.835,"color":"#d6d6d6"},{"offset":0.836,"color":"#fff"},{"offset":0.837,"color":"#d6d6d6"},{"offset":0.838,"color":"#fff"},{"offset":0.839,"color":"#d6d6d6"},
{"offset":0.840,"color":"#fff"},{"offset":0.841,"color":"#d6d6d6"},{"offset":0.842,"color":"#fff"},{"offset":0.843,"color":"#d6d6d6"},{"offset":0.844,"color":"#fff"},{"offset":0.845,"color":"#d6d6d6"},{"offset":0.846,"color":"#fff"},{"offset":0.847,"color":"#d6d6d6"},{"offset":0.848,"color":"#fff"},{"offset":0.849,"color":"#d6d6d6"},
{"offset":0.850,"color":"#fff"},{"offset":0.851,"color":"#d6d6d6"},{"offset":0.852,"color":"#fff"},{"offset":0.853,"color":"#d6d6d6"},{"offset":0.854,"color":"#fff"},{"offset":0.855,"color":"#d6d6d6"},{"offset":0.856,"color":"#fff"},{"offset":0.857,"color":"#d6d6d6"},{"offset":0.858,"color":"#fff"},{"offset":0.859,"color":"#d6d6d6"},
{"offset":0.860,"color":"#fff"},{"offset":0.861,"color":"#d6d6d6"},{"offset":0.862,"color":"#fff"},{"offset":0.863,"color":"#d6d6d6"},{"offset":0.864,"color":"#fff"},{"offset":0.865,"color":"#d6d6d6"},{"offset":0.866,"color":"#fff"},{"offset":0.867,"color":"#d6d6d6"},{"offset":0.868,"color":"#fff"},{"offset":0.869,"color":"#d6d6d6"},
{"offset":0.870,"color":"#fff"},{"offset":0.871,"color":"#d6d6d6"},{"offset":0.872,"color":"#fff"},{"offset":0.873,"color":"#d6d6d6"},{"offset":0.874,"color":"#fff"},{"offset":0.875,"color":"#d6d6d6"},{"offset":0.876,"color":"#fff"},{"offset":0.877,"color":"#d6d6d6"},{"offset":0.878,"color":"#fff"},{"offset":0.879,"color":"#d6d6d6"},
{"offset":0.880,"color":"#fff"},{"offset":0.881,"color":"#d6d6d6"},{"offset":0.882,"color":"#fff"},{"offset":0.883,"color":"#d6d6d6"},{"offset":0.884,"color":"#fff"},{"offset":0.885,"color":"#d6d6d6"},{"offset":0.886,"color":"#fff"},{"offset":0.887,"color":"#d6d6d6"},{"offset":0.888,"color":"#fff"},{"offset":0.889,"color":"#d6d6d6"},
{"offset":0.890,"color":"#fff"},{"offset":0.891,"color":"#d6d6d6"},{"offset":0.892,"color":"#fff"},{"offset":0.893,"color":"#d6d6d6"},{"offset":0.894,"color":"#fff"},{"offset":0.895,"color":"#d6d6d6"},{"offset":0.896,"color":"#fff"},{"offset":0.897,"color":"#d6d6d6"},{"offset":0.898,"color":"#fff"},{"offset":0.899,"color":"#d6d6d6"},
{"offset":0.900,"color":"#fff"},{"offset":0.901,"color":"#d6d6d6"},{"offset":0.902,"color":"#fff"},{"offset":0.903,"color":"#d6d6d6"},{"offset":0.904,"color":"#fff"},{"offset":0.905,"color":"#d6d6d6"},{"offset":0.906,"color":"#fff"},{"offset":0.907,"color":"#d6d6d6"},{"offset":0.908,"color":"#fff"},{"offset":0.909,"color":"#d6d6d6"},
{"offset":0.910,"color":"#fff"},{"offset":0.911,"color":"#d6d6d6"},{"offset":0.912,"color":"#fff"},{"offset":0.913,"color":"#d6d6d6"},{"offset":0.914,"color":"#fff"},{"offset":0.915,"color":"#d6d6d6"},{"offset":0.916,"color":"#fff"},{"offset":0.917,"color":"#d6d6d6"},{"offset":0.918,"color":"#fff"},{"offset":0.919,"color":"#d6d6d6"},
{"offset":0.920,"color":"#fff"},{"offset":0.921,"color":"#d6d6d6"},{"offset":0.922,"color":"#fff"},{"offset":0.923,"color":"#d6d6d6"},{"offset":0.924,"color":"#fff"},{"offset":0.925,"color":"#d6d6d6"},{"offset":0.926,"color":"#fff"},{"offset":0.927,"color":"#d6d6d6"},{"offset":0.928,"color":"#fff"},{"offset":0.929,"color":"#d6d6d6"},
{"offset":0.930,"color":"#fff"},{"offset":0.931,"color":"#d6d6d6"},{"offset":0.932,"color":"#fff"},{"offset":0.933,"color":"#d6d6d6"},{"offset":0.934,"color":"#fff"},{"offset":0.935,"color":"#d6d6d6"},{"offset":0.936,"color":"#fff"},{"offset":0.937,"color":"#d6d6d6"},{"offset":0.938,"color":"#fff"},{"offset":0.939,"color":"#d6d6d6"},
{"offset":0.940,"color":"#fff"},{"offset":0.941,"color":"#d6d6d6"},{"offset":0.942,"color":"#fff"},{"offset":0.943,"color":"#d6d6d6"},{"offset":0.944,"color":"#fff"},{"offset":0.945,"color":"#d6d6d6"},{"offset":0.946,"color":"#fff"},{"offset":0.947,"color":"#d6d6d6"},{"offset":0.948,"color":"#fff"},{"offset":0.949,"color":"#d6d6d6"},
{"offset":0.950,"color":"#fff"},{"offset":0.951,"color":"#d6d6d6"},{"offset":0.952,"color":"#fff"},{"offset":0.953,"color":"#d6d6d6"},{"offset":0.954,"color":"#fff"},{"offset":0.955,"color":"#d6d6d6"},{"offset":0.956,"color":"#fff"},{"offset":0.957,"color":"#d6d6d6"},{"offset":0.958,"color":"#fff"},{"offset":0.959,"color":"#d6d6d6"},
{"offset":0.960,"color":"#fff"},{"offset":0.961,"color":"#d6d6d6"},{"offset":0.962,"color":"#fff"},{"offset":0.963,"color":"#d6d6d6"},{"offset":0.964,"color":"#fff"},{"offset":0.965,"color":"#d6d6d6"},{"offset":0.966,"color":"#fff"},{"offset":0.967,"color":"#d6d6d6"},{"offset":0.968,"color":"#fff"},{"offset":0.969,"color":"#d6d6d6"},
{"offset":0.970,"color":"#fff"},{"offset":0.971,"color":"#d6d6d6"},{"offset":0.972,"color":"#fff"},{"offset":0.973,"color":"#d6d6d6"},{"offset":0.974,"color":"#fff"},{"offset":0.975,"color":"#d6d6d6"},{"offset":0.976,"color":"#fff"},{"offset":0.977,"color":"#d6d6d6"},{"offset":0.978,"color":"#fff"},{"offset":0.979,"color":"#d6d6d6"},
{"offset":0.980,"color":"#fff"},{"offset":0.981,"color":"#d6d6d6"},{"offset":0.982,"color":"#fff"},{"offset":0.983,"color":"#d6d6d6"},{"offset":0.984,"color":"#fff"},{"offset":0.985,"color":"#d6d6d6"},{"offset":0.986,"color":"#fff"},{"offset":0.987,"color":"#d6d6d6"},{"offset":0.988,"color":"#fff"},{"offset":0.989,"color":"#d6d6d6"},
{"offset":0.990,"color":"#fff"},{"offset":0.991,"color":"#d6d6d6"},{"offset":0.992,"color":"#fff"},{"offset":0.993,"color":"#d6d6d6"},{"offset":0.994,"color":"#fff"},{"offset":0.995,"color":"#d6d6d6"},{"offset":0.996,"color":"#fff"},{"offset":0.997,"color":"#d6d6d6"},{"offset":0.998,"color":"#fff"},{"offset":0.999,"color":"#d6d6d6"},
{"offset":1.000,"color":"#fff"}
          ]
        }
      },
      "encoding": {}
    },
    {
      "data": {
        "values": [
          {"tenor": "1 Mês", "serie": "31/03/2026", "taxa": 3.695},
          {"tenor": "2 Meses", "serie": "31/03/2026", "taxa": 3.706},
          {"tenor": "3 Meses", "serie": "31/03/2026", "taxa": 3.687},
          {"tenor": "6 Meses", "serie": "31/03/2026", "taxa": 3.706},
          {"tenor": "1 Ano", "serie": "31/03/2026", "taxa": 3.672},
          {"tenor": "2 Anos", "serie": "31/03/2026", "taxa": 3.798},
          {"tenor": "3 Anos", "serie": "31/03/2026", "taxa": 3.819},
          {"tenor": "5 Anos", "serie": "31/03/2026", "taxa": 3.943},
          {"tenor": "7 Anos", "serie": "31/03/2026", "taxa": 4.127},
          {"tenor": "10 Anos", "serie": "31/03/2026", "taxa": 4.308},
          {"tenor": "1 Mês", "serie": "30/04/2026", "taxa": 3.642},
          {"tenor": "2 Meses", "serie": "30/04/2026", "taxa": 3.686},
          {"tenor": "3 Meses", "serie": "30/04/2026", "taxa": 3.674},
          {"tenor": "6 Meses", "serie": "30/04/2026", "taxa": 3.698},
          {"tenor": "1 Ano", "serie": "30/04/2026", "taxa": 3.716},
          {"tenor": "2 Anos", "serie": "30/04/2026", "taxa": 3.883},
          {"tenor": "3 Anos", "serie": "30/04/2026", "taxa": 3.907},
          {"tenor": "5 Anos", "serie": "30/04/2026", "taxa": 4.023},
          {"tenor": "7 Anos", "serie": "30/04/2026", "taxa": 4.207},
          {"tenor": "10 Anos", "serie": "30/04/2026", "taxa": 4.387}
        ]
      },
      "mark": {"type": "line", "strokeWidth": 3, "strokeCap": "round", "strokeJoin": "round"},
      "encoding": {
        "x": {
          "field": "tenor", "type": "ordinal",
          "sort": ["1 Mês", "2 Meses", "3 Meses", "6 Meses", "1 Ano", "2 Anos", "3 Anos", "5 Anos", "7 Anos", "10 Anos"],
          "scale": {"type": "point", "padding": 0.5},
          "axis": {"labelAngle": 0, "labelPadding": 13, "domain": true, "domainColor": "#d9d9d9", "domainWidth": 2}
        },
        "y": {
          "field": "taxa", "type": "quantitative",
          "scale": {"domain": [2, 5], "nice": false, "zero": false},
          "axis": {"values": [2, 3, 4, 5], "domain": false, "labelPadding": 16, "labelExpr": "replace(format(datum.value, '.1f'), '.', ',') + '%'"}
        },
        "color": {
          "field": "serie", "type": "nominal",
          "sort": ["31/03/2026", "30/04/2026"],
          "scale": {"domain": ["31/03/2026", "30/04/2026"], "range": ["#0070c0", "#a5a5a5"]},
          "legend": {"title": null, "orient": "none", "direction": "horizontal", "legendX": 795, "legendY": 1090, "symbolType": "stroke", "symbolSize": 1444, "symbolStrokeWidth": 3, "labelOffset": 2, "columnPadding": 14, "padding": 0}
        }
      }
    }
  ]
}
